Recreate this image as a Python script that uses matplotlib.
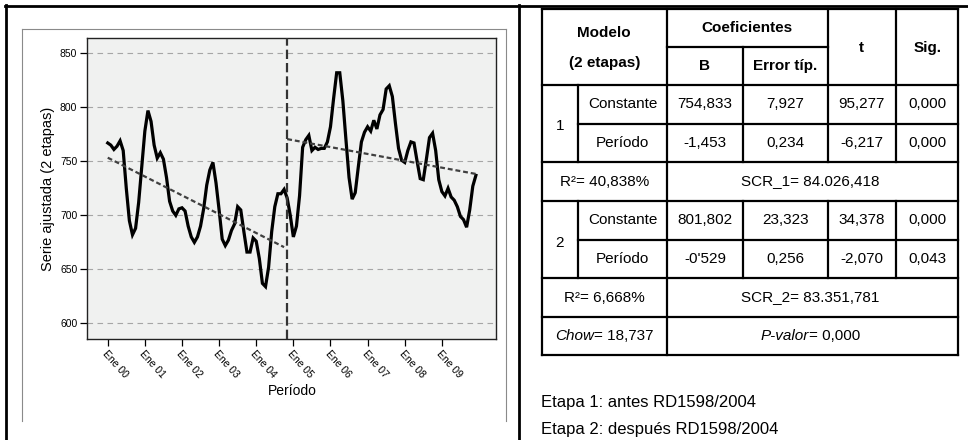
import matplotlib
matplotlib.use("Agg")
import matplotlib.pyplot as plt
from matplotlib.lines import Line2D
from matplotlib import font_manager
import numpy as np

# ---------------- data ----------------
months = list(range(120))
serie = [767, 765, 761, 764, 769, 760, 725, 695, 682, 688,
         712, 745, 778, 797, 787, 765, 753, 758, 752, 735,
         713, 704, 700, 706, 707, 704, 690, 680, 675, 680,
         690, 706, 728, 742, 749, 730, 705, 678, 672, 677,
         686, 692, 708, 705, 685, 666, 666, 679, 676, 660,
         637, 634, 652, 685, 708, 720, 720, 724, 716, 700,
         680, 690, 718, 763, 770, 774, 760, 763, 761, 762,
         762, 768, 782, 808, 832, 832, 806, 770, 735, 715,
         721, 745, 768, 777, 782, 778, 788, 780, 793, 798,
         817, 820, 810, 785, 762, 751, 749, 760, 768, 767,
         750, 734, 733, 752, 772, 776, 760, 733, 722, 718,
         725, 717, 714, 708, 699, 696, 689, 705, 727, 737]
tick_months = [0, 12, 24, 36, 48, 60, 72, 84, 96, 108]
tick_labels = ["Ene 00", "Ene 01", "Ene 02", "Ene 03", "Ene 04",
               "Ene 05", "Ene 06", "Ene 07", "Ene 08", "Ene 09"]
y_ticks = [600, 650, 700, 750, 800, 850]
break_month = 58
stage1_months = [0, 57]
stage2_months = [58, 119]
stage1_coef = [754.833, -1.453]
stage2_coef = [801.802, -0.529]

table_header1 = ["Modelo", "(2 etapas)"]
table_header_coef = "Coeficientes"
table_header_cols = ["B", "Error típ.", "t", "Sig."]
stage1_rows = [["Constante", "754,833", "7,927", "95,277", "0,000"],
               ["Período", "-1,453", "0,234", "-6,217", "0,000"]]
stage2_rows = [["Constante", "801,802", "23,323", "34,378", "0,000"],
               ["Período", "-0'529", "0,256", "-2,070", "0,043"]]
r2_texts = ["R²= 40,838%", "R²= 6,668%"]
scr_texts = ["SCR_1= 84.026,418", "SCR_2= 83.351,781"]
chow_text = ("Chow", "= 18,737")
pval_text = ("P-valor", "= 0,000")
notes = ["Etapa 1: antes RD1598/2004", "Etapa 2: después RD1598/2004"]

# ---------------- fonts ----------------
available = {f.name for f in font_manager.fontManager.ttflist}
base_font = "Liberation Sans" if "Liberation Sans" in available else "DejaVu Sans"
narrow = "Liberation Sans Narrow" if "Liberation Sans Narrow" in available else None
plt.rcParams["font.family"] = [base_font, "DejaVu Sans"]
tfont = [narrow, "DejaVu Sans"] if narrow else [base_font, "DejaVu Sans"]
tsize = 12 if narrow else 11

W, H = 968, 440
fig = plt.figure(figsize=(W / 100, H / 100), dpi=100)
fig.patch.set_facecolor("white")


def fx(x):
    return x / W


def fy(y):
    return 1 - y / H


def hline(y, x0, x1, lw=1.6, color="black"):
    fig.add_artist(Line2D([fx(x0), fx(x1)], [fy(y), fy(y)], transform=fig.transFigure,
                          color=color, lw=lw, solid_capstyle="projecting"))


def vline(x, y0, y1, lw=1.6, color="black"):
    fig.add_artist(Line2D([fx(x), fx(x)], [fy(y0), fy(y1)], transform=fig.transFigure,
                          color=color, lw=lw, solid_capstyle="projecting"))


# outer frame
hline(6, 5, 968, lw=2.0)
vline(6, 5, 440, lw=2.0)
vline(519, 5, 440, lw=2.0)
# inner grey frame
hline(29, 22, 506, lw=0.8, color="#8a8a8a")
vline(22, 29, 421, lw=0.8, color="#8a8a8a")
vline(506, 29, 421, lw=0.8, color="#8a8a8a")

# ---------------- chart ----------------
ax = fig.add_axes([fx(87), fy(339), (496 - 87) / W, (339 - 38) / H])
ax.set_facecolor("#f0f1f0")
ax.set_xlim(-6.7, 125.5)
ax.set_ylim(585.5, 864.2)
ax.set_yticks(y_ticks)
ax.set_yticklabels([str(v) for v in y_ticks])
ax.set_xticks(tick_months)
ax.set_xticklabels(tick_labels, rotation=-48, ha="left", va="top",
                   rotation_mode="anchor")
ax.tick_params(axis="both", labelsize=7.5, length=5, width=0.9, color="black",
               direction="out", pad=2)
ax.yaxis.grid(True, color="#a6a6a6", linestyle=(0, (5, 4)), lw=0.8)
ax.xaxis.grid(False)
ax.set_axisbelow(True)
for s in ax.spines.values():
    s.set_color("#222222")
    s.set_linewidth(1.0)

ax.plot(months, serie, color="black", lw=2.3, solid_joinstyle="miter", zorder=3)

t1 = np.array(stage1_months)
t2 = np.array(stage2_months)
ax.plot(t1, stage1_coef[0] + stage1_coef[1] * (t1 + 1), color="#404040", lw=1.6,
        dashes=(2.2, 1.3), zorder=4)
ax.plot(t2, stage2_coef[0] + stage2_coef[1] * (t2 + 1), color="#404040", lw=1.6,
        dashes=(2.2, 1.3), zorder=4)
ax.axvline(break_month, color="#333333", lw=1.6, dashes=(4.2, 1.8), zorder=4)

ax.set_ylabel("Serie ajustada (2 etapas)", fontsize=10.5, va="center")
ax.yaxis.set_label_coords((48 - 87) / 409, 0.5)
ax.set_xlabel("Período", fontsize=10, va="center")
ax.xaxis.set_label_coords((292 - 87) / 409, (339 - 391) / 301)

# ---------------- table ----------------
L, C0, C1, C2, C3, C4, R = 541.7, 578.3, 666.7, 743.3, 827.7, 896.0, 958.3
rows_y = [9, 47, 85, 123.5, 162, 201, 240, 278, 317, 355]

hline(rows_y[0], L, R)
hline(rows_y[1], C1, C3)
hline(rows_y[2], L, R)
hline(rows_y[3], C0, R)
hline(rows_y[4], L, R)
hline(rows_y[5], L, R)
hline(rows_y[6], C0, R)
hline(rows_y[7], L, R)
hline(rows_y[8], L, R)
hline(rows_y[9], L, R)
vline(L, rows_y[0], rows_y[9])
vline(C1, rows_y[0], rows_y[9])
vline(R, rows_y[0], rows_y[9])
vline(C0, rows_y[2], rows_y[4])
vline(C0, rows_y[5], rows_y[7])
vline(C2, rows_y[1], rows_y[4])
vline(C2, rows_y[5], rows_y[7])
for x in (C3, C4):
    vline(x, rows_y[0], rows_y[4])
    vline(x, rows_y[5], rows_y[7])


def ttext(x, y, s, bold=False, style="normal", ha="center"):
    return fig.text(fx(x), fy(y), s, ha=ha, va="center", family=tfont, fontsize=tsize,
                    fontweight="bold" if bold else "normal", style=style)


def mid(a, b):
    return (a + b) / 2


col_centers = [mid(C0, C1), mid(C1, C2), mid(C2, C3), mid(C3, C4), mid(C4, R)]

# headers
ttext(mid(L, C1), 33, table_header1[0], bold=True)
ttext(mid(L, C1), 63, table_header1[1], bold=True)
ttext(mid(C1, C3), 28, table_header_coef, bold=True)
ttext(mid(C1, C2), 66, table_header_cols[0], bold=True)
ttext(mid(C2, C3), 66, table_header_cols[1], bold=True)
ttext(mid(C3, C4), 48, table_header_cols[2], bold=True)
ttext(mid(C4, R), 48, table_header_cols[3], bold=True)

# stage blocks
for rows, label, top_i in ((stage1_rows, "1", 2), (stage2_rows, "2", 5)):
    ttext(mid(L, C0), rows_y[top_i + 1] + 3, label)
    for k, row in enumerate(rows):
        yc = mid(rows_y[top_i + k], rows_y[top_i + k + 1])
        for xc, s in zip(col_centers, row):
            ttext(xc, yc, s)

ttext(mid(L, C1), mid(rows_y[4], rows_y[5]), r2_texts[0])
ttext(810, mid(rows_y[4], rows_y[5]), scr_texts[0])
ttext(mid(L, C1), mid(rows_y[7], rows_y[8]), r2_texts[1])
ttext(810, mid(rows_y[7], rows_y[8]), scr_texts[1])

renderer = fig.canvas.get_renderer()


def mixed(xc, yc, parts):
    a = ttext(0, yc, parts[0], style="italic", ha="left")
    b = ttext(0, yc, parts[1], ha="left")
    wa = a.get_window_extent(renderer).width
    wb = b.get_window_extent(renderer).width
    x0 = xc - (wa + wb) / 2
    a.set_x(fx(x0))
    b.set_x(fx(x0 + wa))


mixed(mid(L, C1), mid(rows_y[8], rows_y[9]), chow_text)
mixed(810, mid(rows_y[8], rows_y[9]), pval_text)

fig.text(fx(541), fy(402), notes[0], ha="left", va="center", fontsize=12)
fig.text(fx(541), fy(429), notes[1], ha="left", va="center", fontsize=12)

fig.savefig("out.png", dpi=100)
